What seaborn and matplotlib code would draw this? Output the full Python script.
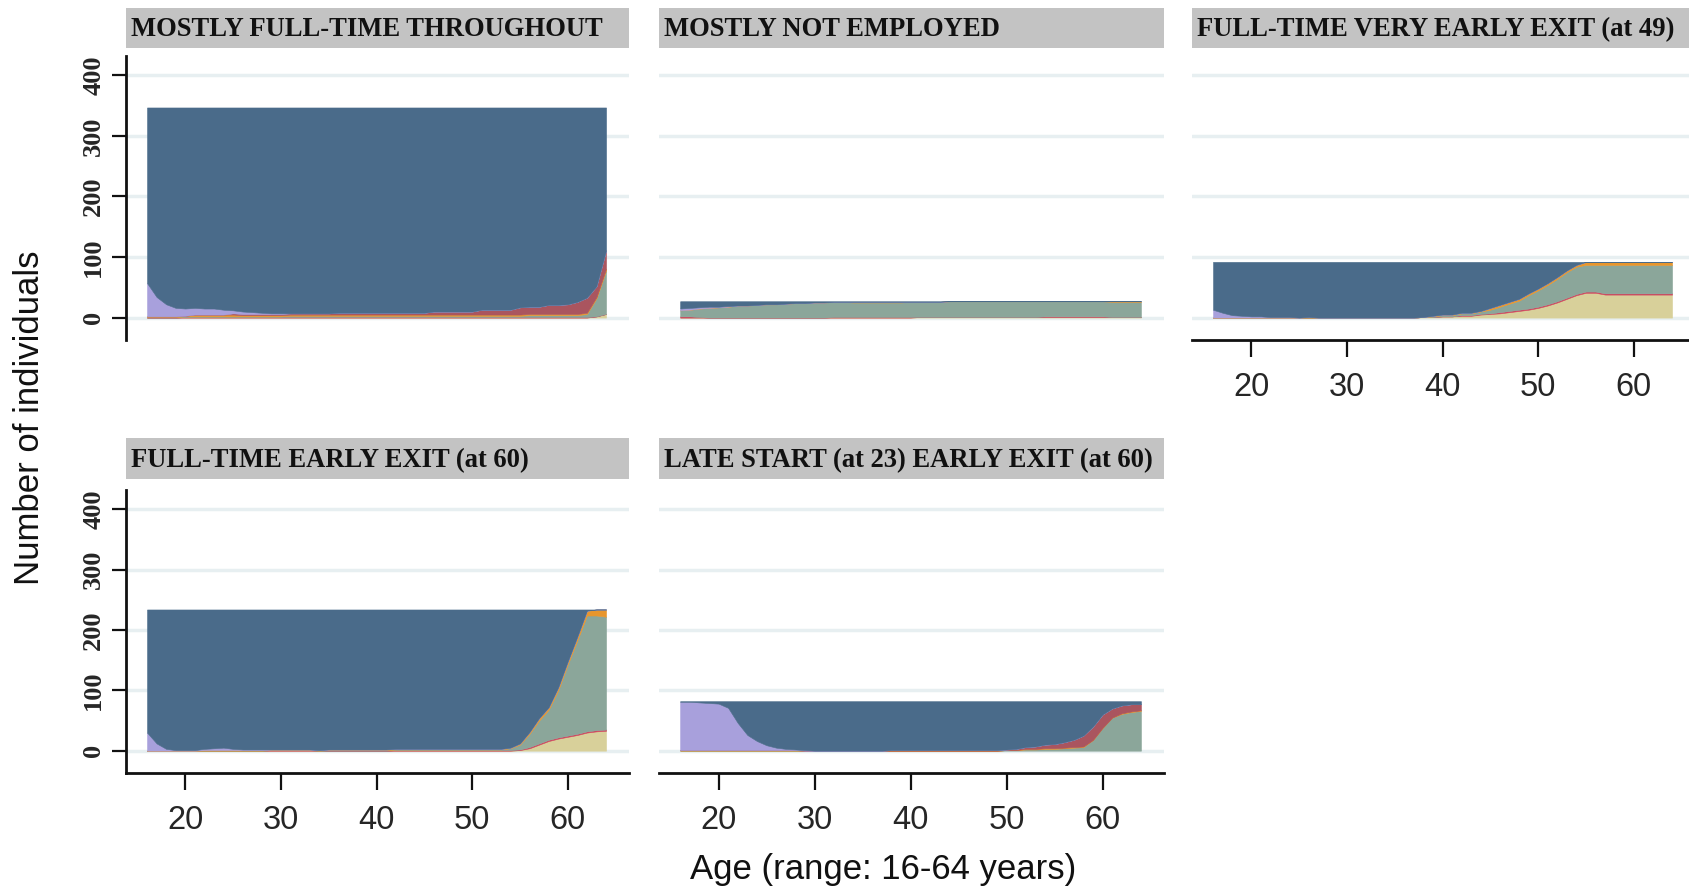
import matplotlib
matplotlib.use("Agg")
import matplotlib.pyplot as plt
import seaborn as sns
import numpy as np

# ages 16..64, one value per year of age
ages = np.arange(16, 65)

titles = ["MOSTLY FULL-TIME THROUGHOUT", "MOSTLY NOT EMPLOYED",
          "FULL-TIME VERY EARLY EXIT (at 49)", "FULL-TIME EARLY EXIT (at 60)",
          "LATE START (at 23) EARLY EXIT (at 60)"]

# --- cluster 1: mostly full-time throughout (n=347)
p1_retired = [0, 0, 0, 0,
              0, 0, 0, 0, 0, 0, 0, 0, 0, 0,
              0, 0, 0, 0, 0, 0, 0, 0, 0, 0,
              0, 0, 0, 0, 0, 0, 0, 0, 0, 0,
              0, 0, 0, 0, 0, 0, 0, 0, 0, 0,
              0, 0, 0, 2, 6]
p1_unemployed = [0, 0, 0, 0,
                 1, 1, 1, 1, 1, 1, 1, 1, 1, 1,
                 1, 1, 1, 1, 1, 1, 1, 1, 1, 1,
                 1, 1, 1, 1, 1, 1, 1, 1, 1, 1,
                 1, 1, 1, 1, 1, 1, 1, 1, 1, 1,
                 1, 1, 1, 0, 0]
p1_notemp = [1, 1, 1, 1,
             1, 1, 1, 1, 1, 1, 1, 1, 1, 1,
             1, 2, 2, 2, 2, 2, 2, 2, 2, 2,
             2, 2, 2, 2, 2, 2, 2, 2, 2, 2,
             2, 2, 2, 2, 2, 2, 3, 3, 3, 3,
             3, 3, 5, 30, 72]
p1_self = [1, 1, 1, 1,
           1, 3, 3, 3, 3, 3, 2, 2, 2, 2,
           2, 2, 2, 2, 2, 2, 2, 2, 2, 2,
           2, 2, 2, 2, 2, 2, 2, 2, 2, 2,
           2, 2, 2, 2, 2, 2, 2, 2, 2, 2,
           2, 2, 2, 2, 3]
p1_part = [0, 0, 0, 0,
           0, 0, 0, 0, 0, 2, 2, 2, 2, 2,
           2, 2, 2, 2, 2, 2, 3, 3, 3, 3,
           3, 3, 3, 3, 3, 3, 5, 5, 5, 5,
           5, 8, 8, 8, 8, 12, 12, 12, 15, 15,
           16, 20, 25, 18, 30]
p1_edu = [55, 32, 20, 14,
          12, 11, 10, 10, 8, 5, 4, 3, 2, 1,
          1, 0, 0, 0, 0, 0, 0, 0, 0, 0,
          0, 0, 0, 0, 0, 0, 0, 0, 0, 0,
          0, 0, 0, 0, 0, 0, 0, 0, 0, 0,
          0, 0, 0, 0, 0]
p1_full = [290, 313, 325, 331,
           332, 331, 332, 332, 334, 335, 337, 338, 339, 340,
           340, 340, 340, 340, 340, 340, 339, 339, 339, 339,
           339, 339, 339, 339, 339, 339, 337, 337, 337, 337,
           337, 334, 334, 334, 334, 330, 329, 329, 326, 326,
           325, 321, 314, 295, 236]

# --- cluster 2: mostly not employed (n=27)
p2_retired = [0, 0, 0, 0,
              0, 0, 0, 0, 0, 0, 0, 0, 0, 0,
              0, 0, 0, 0, 0, 0, 0, 0, 0, 0,
              0, 1, 1, 1, 1, 1, 1, 1, 1, 1,
              1, 1, 1, 1, 1, 1, 1, 1, 1, 1,
              1, 1, 1, 1, 1]
p2_unemployed = [2, 2, 1, 0,
                 0, 0, 0, 0, 0, 0, 0, 0, 0, 0,
                 0, 0, 1, 1, 1, 1, 1, 1, 1, 1,
                 1, 0, 0, 0, 0, 0, 0, 0, 0, 0,
                 0, 0, 0, 0, 1, 1, 1, 1, 1, 1,
                 1, 0, 0, 0, 0]
p2_notemp = [10, 11, 14, 16,
             17, 18, 20, 20, 21, 22, 22, 23, 24, 24,
             25, 25, 25, 25, 24, 24, 24, 24, 24, 24,
             25, 25, 25, 25, 26, 26, 26, 26, 26, 26,
             26, 26, 26, 26, 25, 25, 25, 25, 25, 25,
             25, 25, 25, 25, 25]
p2_self = [0, 0, 0, 0,
           0, 0, 0, 0, 0, 0, 0, 0, 0, 0,
           0, 0, 0, 0, 1, 1, 1, 1, 1, 1,
           0, 0, 0, 0, 0, 0, 0, 0, 0, 0,
           0, 0, 0, 0, 0, 0, 0, 0, 0, 0,
           0, 1, 1, 1, 1]
p2_edu = [3, 3, 2, 2,
          1, 1, 0, 0, 0, 0, 0, 0, 0, 0,
          0, 0, 0, 0, 0, 0, 0, 0, 0, 0,
          0, 0, 0, 0, 0, 0, 0, 0, 0, 0,
          0, 0, 0, 0, 0, 0, 0, 0, 0, 0,
          0, 0, 0, 0, 0]
p2_full = [12, 11, 10, 9,
           9, 8, 7, 7, 6, 5, 5, 4, 3, 3,
           2, 2, 1, 1, 1, 1, 1, 1, 1, 1,
           1, 1, 1, 1, 0, 0, 0, 0, 0, 0,
           0, 0, 0, 0, 0, 0, 0, 0, 0, 0,
           0, 0, 0, 0, 0]

# --- cluster 3: full-time very early exit (n=92)
p3_retired = [0, 0, 0, 0,
              0, 0, 0, 0, 0, 0, 0, 0, 0, 0,
              0, 0, 0, 0, 0, 0, 0, 0, 1, 1,
              2, 2, 3, 3, 5, 6, 7, 9, 11, 13,
              16, 20, 25, 31, 37, 41, 41, 38, 38, 38,
              38, 38, 38, 38, 38]
p3_unemployed = [0, 0, 0, 0,
                 0, 0, 0, 0, 0, 0, 0, 0, 0, 0,
                 0, 0, 0, 0, 0, 0, 0, 0, 0, 0,
                 0, 0, 1, 1, 1, 1, 2, 2, 2, 2,
                 2, 2, 2, 2, 2, 2, 2, 2, 2, 2,
                 2, 2, 2, 2, 2]
p3_notemp = [0, 0, 0, 0,
             0, 0, 0, 0, 0, 0, 0, 0, 0, 0,
             0, 0, 0, 0, 0, 0, 0, 0, 0, 1,
             2, 2, 3, 3, 4, 6, 9, 12, 15, 22,
             27, 32, 37, 42, 45, 44, 44, 47, 47, 47,
             47, 47, 47, 47, 47]
p3_self = [0, 0, 0, 0,
           0, 0, 0, 0, 0, 0, 1, 0, 0, 0,
           0, 0, 0, 0, 0, 0, 0, 0, 0, 1,
           1, 1, 1, 1, 1, 3, 3, 3, 3, 3,
           3, 3, 3, 3, 3, 5, 5, 5, 5, 5,
           5, 5, 5, 5, 5]
p3_edu = [13, 8, 4, 3,
          2, 2, 1, 1, 1, 0, 0, 0, 0, 0,
          0, 0, 0, 0, 0, 0, 0, 0, 0, 0,
          0, 0, 0, 0, 0, 0, 0, 0, 0, 0,
          0, 0, 0, 0, 0, 0, 0, 0, 0, 0,
          0, 0, 0, 0, 0]
p3_full = [79, 84, 88, 89,
           90, 90, 91, 91, 91, 92, 91, 92, 92, 92,
           92, 92, 92, 92, 92, 92, 92, 92, 91, 89,
           87, 87, 84, 84, 81, 76, 71, 66, 61, 52,
           44, 35, 25, 14, 5, 0, 0, 0, 0, 0,
           0, 0, 0, 0, 0]

# --- cluster 4: full-time early exit (n=234)
p4_retired = [0, 0, 0, 0,
              0, 0, 0, 0, 0, 0, 0, 0, 0, 0,
              0, 0, 0, 0, 0, 0, 0, 0, 0, 0,
              0, 0, 0, 0, 0, 0, 0, 0, 0, 0,
              0, 0, 0, 0, 0, 1, 4, 10, 16, 20,
              23, 26, 30, 32, 33]
p4_unemployed = [0, 0, 0, 0,
                 0, 0, 0, 0, 0, 0, 0, 0, 0, 1,
                 1, 1, 1, 1, 0, 0, 0, 0, 0, 0,
                 0, 0, 1, 1, 1, 1, 1, 1, 1, 1,
                 1, 1, 1, 1, 1, 1, 2, 2, 2, 2,
                 2, 2, 2, 2, 2]
p4_notemp = [0, 0, 0, 0,
             0, 0, 0, 0, 0, 0, 0, 0, 0, 0,
             0, 0, 0, 0, 0, 1, 1, 1, 1, 1,
             1, 1, 1, 1, 1, 1, 1, 1, 1, 1,
             1, 1, 1, 1, 3, 8, 22, 38, 50, 78,
             118, 155, 192, 190, 187]
p4_self = [0, 0, 0, 0,
           0, 0, 1, 1, 1, 1, 1, 1, 1, 1,
           1, 1, 1, 1, 1, 1, 1, 1, 1, 1,
           1, 1, 1, 1, 1, 1, 1, 1, 1, 1,
           1, 1, 1, 1, 1, 2, 3, 4, 4, 5,
           5, 6, 8, 10, 12]
p4_edu = [30, 12, 3, 1,
          1, 1, 2, 3, 4, 2, 1, 1, 1, 0,
          0, 0, 0, 0, 0, 0, 0, 0, 0, 0,
          0, 0, 0, 0, 0, 0, 0, 0, 0, 0,
          0, 0, 0, 0, 0, 0, 0, 0, 0, 0,
          0, 0, 0, 0, 0]
p4_full = [204, 222, 231, 233,
           233, 233, 231, 230, 229, 231, 232, 232, 232, 232,
           232, 232, 232, 232, 233, 232, 232, 232, 232, 232,
           232, 232, 231, 231, 231, 231, 231, 231, 231, 231,
           231, 231, 231, 231, 229, 222, 203, 180, 162, 129,
           86, 45, 2, 0, 0]

# --- cluster 5: late start, early exit (n=82)
p5_notemp = [0, 0, 0, 0,
             0, 0, 0, 0, 0, 0, 0, 0, 0, 0,
             0, 0, 0, 0, 0, 0, 0, 0, 0, 0,
             0, 0, 0, 0, 0, 0, 0, 0, 0, 0,
             1, 1, 2, 2, 3, 3, 4, 5, 6, 18,
             38, 55, 61, 64, 66]
p5_self = [1, 1, 1, 1,
           1, 1, 1, 1, 1, 1, 1, 1, 1, 0,
           0, 0, 0, 0, 0, 0, 0, 0, 0, 0,
           0, 0, 0, 0, 0, 0, 0, 0, 0, 0,
           0, 0, 1, 1, 1, 1, 1, 1, 1, 0,
           0, 0, 1, 1, 1]
p5_part = [0, 0, 0, 0,
           0, 0, 0, 0, 0, 0, 0, 0, 0, 0,
           0, 0, 0, 0, 0, 0, 0, 0, 1, 1,
           1, 1, 1, 1, 1, 1, 1, 1, 1, 1,
           1, 2, 3, 4, 6, 7, 9, 12, 18, 22,
           22, 15, 13, 12, 10]
p5_edu = [80, 80, 79, 78,
          77, 70, 45, 25, 15, 8, 4, 2, 1, 1,
          0, 0, 0, 0, 0, 0, 0, 0, 0, 0,
          0, 0, 0, 0, 0, 0, 0, 0, 0, 0,
          0, 0, 0, 0, 0, 0, 0, 0, 0, 0,
          0, 0, 0, 0, 0]
p5_full = [1, 1, 2, 3,
           4, 11, 36, 56, 66, 73, 77, 79, 80, 81,
           82, 82, 82, 82, 82, 82, 82, 82, 81, 81,
           81, 81, 81, 81, 81, 81, 81, 81, 81, 81,
           80, 79, 76, 75, 72, 71, 68, 64, 57, 42,
           22, 12, 7, 5, 5]

x_ticks = [20, 30, 40, 50, 60]
y_ticks = [0, 100, 200, 300, 400]

# stacking order bottom -> top
order = ["retired", "unemployed", "notemp", "self", "part", "edu", "full"]
colors = {"retired": "#d8d09a", "unemployed": "#d0405a", "notemp": "#8ba69a",
          "self": "#e8962d", "part": "#aa555f", "edu": "#a8a0dc", "full": "#4a6b8a"}

panels = [
    {"retired": p1_retired, "unemployed": p1_unemployed, "notemp": p1_notemp,
     "self": p1_self, "part": p1_part, "edu": p1_edu, "full": p1_full},
    {"retired": p2_retired, "unemployed": p2_unemployed, "notemp": p2_notemp,
     "self": p2_self, "edu": p2_edu, "full": p2_full},
    {"retired": p3_retired, "unemployed": p3_unemployed, "notemp": p3_notemp,
     "self": p3_self, "edu": p3_edu, "full": p3_full},
    {"retired": p4_retired, "unemployed": p4_unemployed, "notemp": p4_notemp,
     "self": p4_self, "edu": p4_edu, "full": p4_full},
    {"notemp": p5_notemp, "self": p5_self, "part": p5_part,
     "edu": p5_edu, "full": p5_full},
]

W, H = 1689, 892


def px_rect(x0, y0, x1, y1):
    return [x0 / W, 1 - y1 / H, (x1 - x0) / W, (y1 - y0) / H]


sns.set_theme(style="white")
plt.rcParams['font.family'] = ['Liberation Sans', 'DejaVu Sans']

fig = plt.figure(figsize=(W / 100, H / 100), dpi=100)

cols = [(126, 629), (659, 1164), (1192, 1695)]
rows = [(56, 340, 7.5, 47.5), (490, 773, 438, 479)]
# (col, row, show y axis, show x axis)
slots = [(0, 0, True, False), (1, 0, False, False), (2, 0, False, True),
         (0, 1, True, True), (1, 1, False, True)]

for i, (c, r, show_y, show_x) in enumerate(slots):
    x0, x1 = cols[c]
    ay0, ay1, ty0, ty1 = rows[r]
    ax = fig.add_axes(px_rect(x0, ay0, x1, ay1))
    keys = [k for k in order if k in panels[i]]
    polys = ax.stackplot(ages, *[panels[i][k] for k in keys],
                         colors=[colors[k] for k in keys])
    for p, k in zip(polys, keys):
        p.set_edgecolor(colors[k])
        p.set_linewidth(0.4)
    ax.set_xlim(13.8, 66.4)
    ax.set_ylim(-37, 432)
    ax.set_yticks(y_ticks)
    ax.yaxis.grid(True, color="#e7eff1", lw=2.5)
    ax.xaxis.grid(False)
    ax.set_axisbelow(True)
    for s in ax.spines.values():
        s.set_visible(False)
    if show_y:
        ax.spines["left"].set_visible(True)
        ax.spines["left"].set_linewidth(2)
        ax.spines["left"].set_color("#111111")
        ax.tick_params(axis="y", left=True, length=10, width=1.6, color="#111111",
                       direction="out", labelrotation=90, pad=5, labelsize=19)
        for lab in ax.get_yticklabels():
            lab.set_fontfamily("Liberation Serif")
            lab.set_fontweight("bold")
            lab.set_va("center")
    else:
        ax.tick_params(axis="y", left=False, labelleft=False)
    if show_x:
        ax.spines["bottom"].set_visible(True)
        ax.spines["bottom"].set_linewidth(2)
        ax.spines["bottom"].set_color("#111111")
        ax.set_xticks(x_ticks)
        ax.tick_params(axis="x", bottom=True, length=12, width=1.6, color="#111111",
                       direction="out", labelsize=23.5, pad=11)
    else:
        ax.set_xticks([])
    ax.set_xlabel("")
    ax.set_ylabel("")

    tax = fig.add_axes(px_rect(x0, ty0, x1, ty1))
    tax.set_facecolor("#c3c3c3")
    tax.set_xticks([])
    tax.set_yticks([])
    for s in tax.spines.values():
        s.set_visible(False)
    tax.text(5 / (x1 - x0), 0.45, titles[i], transform=tax.transAxes,
             ha="left", va="center", fontfamily="Liberation Serif",
             fontweight="bold", fontsize=19.2, color="#111111")

fig.text(30 / W, 1 - 418 / H, "Number of individuals", rotation=90,
         ha="center", va="center", fontsize=25, color="#111111")
fig.text(883 / W, 1 - 870 / H, "Age (range: 16-64 years)",
         ha="center", va="center", fontsize=25, color="#111111")

fig.savefig("out.png", dpi=100, facecolor="white")
